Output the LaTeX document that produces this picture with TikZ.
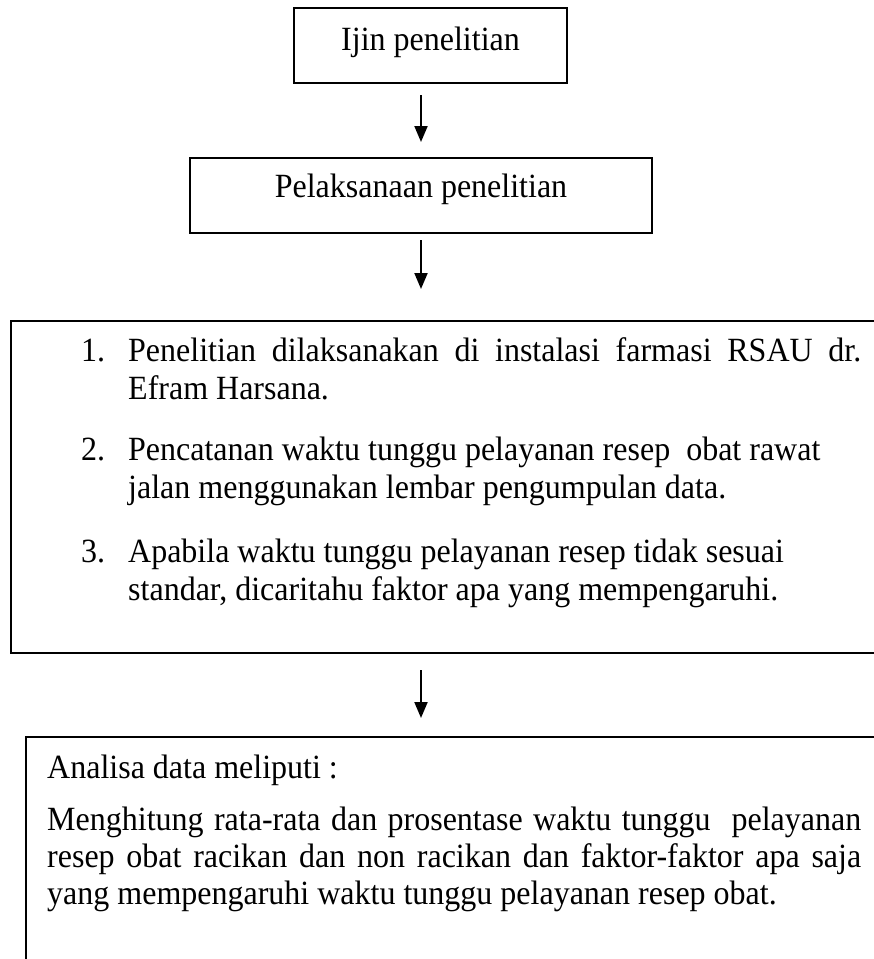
\documentclass[tikz,border=0pt]{standalone}
\usepackage{graphicx}
\usepackage{fontspec}
\setmainfont{Liberation Serif}
\usetikzlibrary{arrows.meta}
\tikzset{
  stepbox/.style={draw, rectangle, line width=2pt, inner sep=0pt, font=\fontsize{32}{38}\selectfont},
  flow/.style={line width=2pt, -{Triangle[width=13pt,length=16pt]}},
  listtext/.style={anchor=north west, inner sep=0pt}
}
\newcommand{\tall}[1]{\scalebox{1}[1.06]{#1}}
\newcommand{\itemno}[1]{\hangindent=47pt\hangafter=1\noindent\makebox[47pt][l]{#1}}
\begin{document}
\begin{tikzpicture}[x=1pt,y=-1pt]
\useasboundingbox (0,0) rectangle (874,959);
\clip (0,0) rectangle (874,959);
% boxes
\node[stepbox, minimum width=273pt, minimum height=75pt, text height=24pt, text depth=15pt] (ijin) at (430.5,45.5) {\tall{Ijin penelitian}};
\node[stepbox, minimum width=462pt, minimum height=75pt, text height=24pt, text depth=21pt] (pelaksanaan) at (421,195.5) {\tall{Pelaksanaan penelitian}};
\node[stepbox, anchor=north west, minimum width=900pt, minimum height=332pt] (langkah) at (10,320) {};
\node[stepbox, anchor=north west, minimum width=900pt, minimum height=300pt] (analisa) at (25,736) {};
% texts in the big boxes
\node[listtext] (daftar) at (81,337) {\tall{\parbox{780pt}{%
\fontsize{32}{35.8}\selectfont
\hyphenpenalty=10000\exhyphenpenalty=10000
\itemno{1.}Penelitian dilaksanakan di instalasi farmasi RSAU dr.\linebreak Efram Harsana.\par
\vspace{22.6pt}
\itemno{2.}Pencatanan waktu tunggu pelayanan resep\ \ obat rawat\newline jalan menggunakan lembar pengumpulan data.\par
\vspace{24.5pt}
\itemno{3.}Apabila waktu tunggu pelayanan resep tidak sesuai\newline standar, dicaritahu faktor apa yang mempengaruhi.\par}}};
\node[listtext] (isi) at (47,755) {\tall{\parbox{814pt}{%
\fontsize{32}{34.9}\selectfont
\hyphenpenalty=10000\exhyphenpenalty=10000
\noindent Analisa data meliputi :\par
\vspace{14.2pt}
\noindent Menghitung rata-rata dan prosentase waktu tunggu\ \ pelayanan\linebreak resep obat racikan dan non racikan dan faktor-faktor apa saja\linebreak yang mempengaruhi waktu tunggu pelayanan resep obat.\par}}};
% arrows
\draw[flow, shorten <=11pt, shorten >=15pt] (ijin.south -| pelaksanaan.north) -- (pelaksanaan.north);
\draw[flow, shorten <=6pt, shorten >=31pt] (pelaksanaan.south) -- (pelaksanaan.south |- langkah.north);
\draw[flow, shorten <=16pt, shorten >=18pt] (pelaksanaan.south |- langkah.south) -- (pelaksanaan.south |- analisa.north);
\end{tikzpicture}
\end{document}
